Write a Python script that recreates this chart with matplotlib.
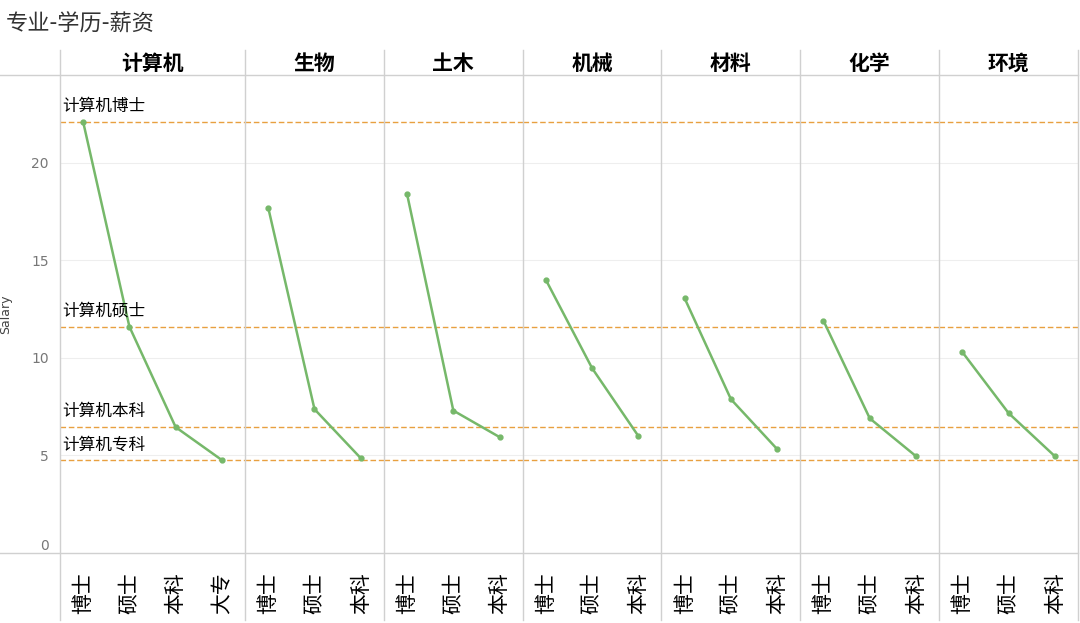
import matplotlib.pyplot as plt
from matplotlib.lines import Line2D

plt.rcParams['font.family'] = ['Noto Sans CJK SC', 'DejaVu Sans']

# 专业 / 学历 / 薪资
majors = ['计算机', '生物', '土木', '机械', '材料', '化学', '环境']
degrees = {
    '计算机': ['博士', '硕士', '本科', '大专'],
}
default_degrees = ['博士', '硕士', '本科']
salary = {
    '计算机': [22.1, 11.6, 6.45, 4.76],
    '生物': [17.7, 7.37, 4.86],
    '土木': [18.4, 7.3, 5.94],
    '机械': [14.0, 9.47, 5.99],
    '材料': [13.05, 7.88, 5.32],
    '化学': [11.9, 6.9, 4.96],
    '环境': [10.3, 7.17, 4.96],
}
ref_labels = ['计算机博士', '计算机硕士', '计算机本科', '计算机专科']
ref_values = salary['计算机']

W, H = 1080, 623
fig = plt.figure(figsize=(W / 100, H / 100), dpi=100)
ratios = [len(salary[m]) for m in majors]
gs = fig.add_gridspec(1, len(majors), width_ratios=ratios, wspace=0,
                      left=60 / W, right=1078 / W, top=1 - 75 / H, bottom=1 - 553 / H)

green = '#76b86a'
orange = '#e8a040'
for i, m in enumerate(majors):
    ax = fig.add_subplot(gs[0, i])
    labs = degrees.get(m, default_degrees)
    x = range(len(labs))
    ax.set_xlim(-0.5, len(labs) - 0.5)
    ax.set_ylim(0, 24.5)
    for yv in [5, 10, 15, 20]:
        ax.axhline(yv, color='#eeeeee', lw=0.8, zorder=0)
    for rv in ref_values:
        ax.axhline(rv, color=orange, lw=1, ls=(0, (4, 2)), zorder=1)
    ax.plot(x, salary[m], color=green, lw=1.8, marker='o', ms=3.5, zorder=3)
    ax.set_xticks(list(x))
    ax.set_xticklabels(labs, rotation=90, fontsize=15)
    ax.tick_params(axis='x', length=0, pad=14)
    for s in ax.spines.values():
        s.set_visible(False)
    if i == 0:
        ax.set_yticks([0, 5, 10, 15, 20])
        ax.set_yticklabels(['0', '5', '10', '15', '20'], family='DejaVu Sans')
        ax.tick_params(axis='y', length=0, labelsize=10, labelcolor='#777777', pad=8)
        ax.get_yticklabels()[0].set_va('bottom')
        ax.set_ylabel('Salary', fontsize=9, color='#444444', labelpad=14, family='DejaVu Sans')
        for lab, rv in zip(ref_labels, ref_values):
            ax.text(-0.45, rv + 0.35, lab, fontsize=12, va='bottom', ha='left')
    else:
        ax.set_yticks([])
    fig.text((ax.get_position().x0 + ax.get_position().x1) / 2, 1 - 63 / H, m,
             ha='center', va='center', fontsize=15, fontweight='bold')

# 分隔线
xs = [60, 245, 384, 523, 661, 800, 939, 1078]
for xp in xs:
    fig.add_artist(Line2D([xp / W, xp / W], [1 - 50 / H, 1 - 620 / H], color='#d0d0d0', lw=1))
for yp in [75, 553]:
    fig.add_artist(Line2D([0, 1078 / W], [1 - yp / H, 1 - yp / H], color='#d0d0d0', lw=1))

fig.text(6 / W, 1 - 24 / H, '专业-学历-薪资', fontsize=16, va='center', ha='left', color='#333333')
fig.savefig('out.png', dpi=100)
